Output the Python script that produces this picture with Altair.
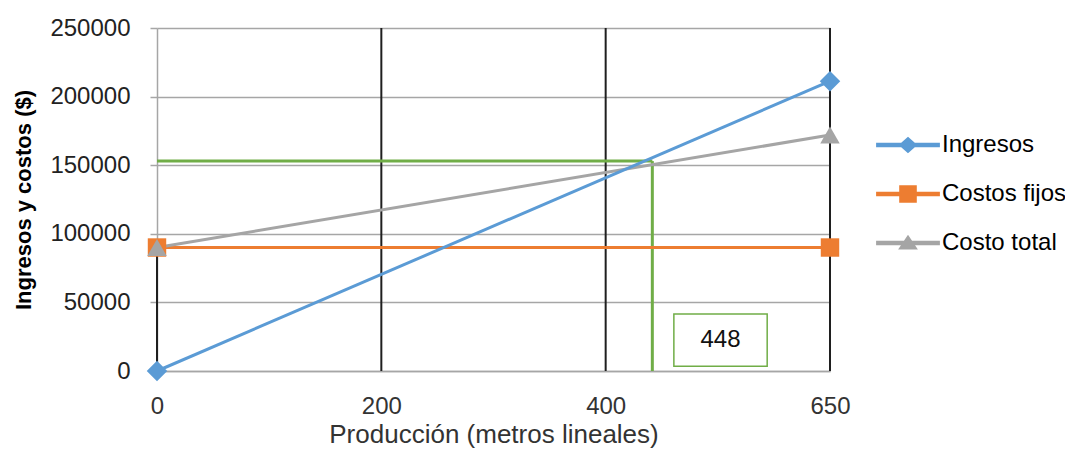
import altair as alt
import pandas as pd

# ---- data ----
series = ["Ingresos", "Costos fijos", "Costo total"]
colors = ["#5B9BD5", "#ED7D31", "#A5A5A5"]
x_points = [0, 650]
ingresos = [0, 211250]
costos_fijos = [90000, 90000]
costo_total = [90000, 172000]

x_ticks = [0, 200, 400, 650]
y_ticks = [0, 50000, 100000, 150000, 200000, 250000]

# vertical black lines (drop lines / gridlines)
drop_x = [0, 200, 400, 650]
drop_top = [90000, 250000, 250000, 250000]

# break-even annotation
be_x = 452
be_y = 153000
be_label = "448"
box_x = [476, 580]
box_y = [3500, 41500]

W, H = 673, 343
FONT = "Liberation Sans"
GRID = "#a6a6a6"
GREEN = "#70AD47"

rows = []
for name, vals in zip(series, [ingresos, costos_fijos, costo_total]):
    for xv, yv in zip(x_points, vals):
        rows.append({"series": name, "x": xv, "y": yv})
df = pd.DataFrame(rows)

drop_df = pd.DataFrame({"x": drop_x, "y": [0] * len(drop_x), "y2": drop_top})
green_df = pd.DataFrame({"x": [0, be_x], "x2": [be_x, be_x],
                         "y": [be_y, 0], "y2": [be_y, be_y]})
box_df = pd.DataFrame({"x": [box_x[0]], "x2": [box_x[1]],
                       "y": [box_y[0]], "y2": [box_y[1]],
                       "cx": [sum(box_x) / 2], "cy": [sum(box_y) / 2],
                       "label": [be_label]})
legend_df = pd.DataFrame({"series": series})

xscale = alt.Scale(domain=x_ticks, range=[0, W / 3, 2 * W / 3, W], nice=False, zero=False)
yscale = alt.Scale(domain=[0, 250000], nice=False, zero=False)

xaxis = alt.Axis(values=x_ticks, title="Producción  (metros lineales)", grid=False, ticks=False,
                 domainColor=GRID, domainWidth=1.5, labelFont=FONT, labelFontSize=24,
                 labelColor="#333333", labelPadding=42, labelBaseline="alphabetic",
                 labelFlush=False, labelOverlap=False,
                 titleFont=FONT, titleFontSize=26, titleFontWeight="normal", titleColor="#333333",
                 titleY=71, titleBaseline="alphabetic")
yaxis = alt.Axis(values=y_ticks, format="d", title="Ingresos y costos ($)", grid=True,
                 gridColor=GRID, gridWidth=1.5, ticks=True, tickSize=7, tickColor=GRID,
                 tickWidth=1.5, domainColor=GRID, domainWidth=1.5, labelFont=FONT,
                 labelFontSize=24, labelColor="#222222", labelPadding=20,
                 labelFlush=False, labelOverlap=False,
                 titleFont=FONT, titleFontSize=22, titleFontWeight="bold", titleColor="#000000",
                 titleAngle=270, titleX=-127, titleY=H / 2, titleBaseline="alphabetic",
                 titleAlign="center")

X = lambda f="x": alt.X(f + ":Q", scale=xscale, axis=xaxis)
Y = lambda f="y": alt.Y(f + ":Q", scale=yscale, axis=yaxis)

drops = alt.Chart(drop_df).mark_rule(color="#1f1f1f", strokeWidth=2).encode(
    x=X(), y=Y(), y2="y2:Q")

green = alt.Chart(green_df).mark_rule(color=GREEN, strokeWidth=3).encode(
    x=X(), x2="x2:Q", y=Y(), y2="y2:Q")


def line(name, color):
    return alt.Chart(df).transform_filter(alt.datum.series == name).mark_line(
        strokeWidth=3, color=color).encode(x=X(), y=Y())


def markers(name, shape, color, size):
    return alt.Chart(df).transform_filter(alt.datum.series == name).mark_point(
        shape=shape, filled=True, size=size, opacity=1, color=color).encode(x=X(), y=Y())


l_ing = line("Ingresos", colors[0])
l_cf = line("Costos fijos", colors[1])
l_ct = line("Costo total", colors[2])
m_sq = markers("Costos fijos", "square", colors[1], 340)
m_di = markers("Ingresos", "diamond", colors[0], 420)
m_tr = markers("Costo total", "triangle-up", colors[2], 380)

box = alt.Chart(box_df).mark_rect(fill="white", stroke=GREEN, strokeWidth=1.5).encode(
    x=X(), x2="x2:Q", y=Y(), y2="y2:Q")
box_text = alt.Chart(box_df).mark_text(font=FONT, fontSize=24, color="#111111",
                                       baseline="middle", align="center").encode(
    x=X("cx"), y=Y("cy"), text="label:N")

legend_paths = [
    "M-2.9,-0.2H2.9V0.2H-2.9Z M0,-0.75L0.85,0L0,0.75L-0.85,0Z",
    "M-2.9,-0.2H2.9V0.2H-2.9Z M-0.8,-0.8H0.8V0.8H-0.8Z",
    "M-2.9,-0.2H2.9V0.2H-2.9Z M0,-0.75L0.9,0.6H-0.9Z",
]
leg = alt.Legend(orient="none", legendX=739, legendY=105, title=None, padding=0,
                 labelFont=FONT, labelFontSize=24, labelColor="#000000", rowPadding=25,
                 labelOffset=22, symbolStrokeWidth=0, symbolOpacity=1, symbolSize=484)
legend_layer = alt.Chart(legend_df).transform_filter("false").mark_point(
    filled=True, size=484, opacity=1).encode(
    fill=alt.Fill("series:N", scale=alt.Scale(domain=series, range=colors), legend=leg),
    shape=alt.Shape("series:N", scale=alt.Scale(domain=series, range=legend_paths), legend=leg))

chart = alt.layer(drops, green, l_cf, l_ct, l_ing, m_sq, m_di, m_tr, box, box_text,
                  legend_layer).properties(
    width=W, height=H,
    autosize=alt.AutoSizeParams(type="none"),
    padding={"left": 149, "top": 20, "right": 235, "bottom": 78},
    background="white",
).configure_view(stroke=None)

chart.save("out.html", embed_options={"renderer": "svg", "actions": False})
